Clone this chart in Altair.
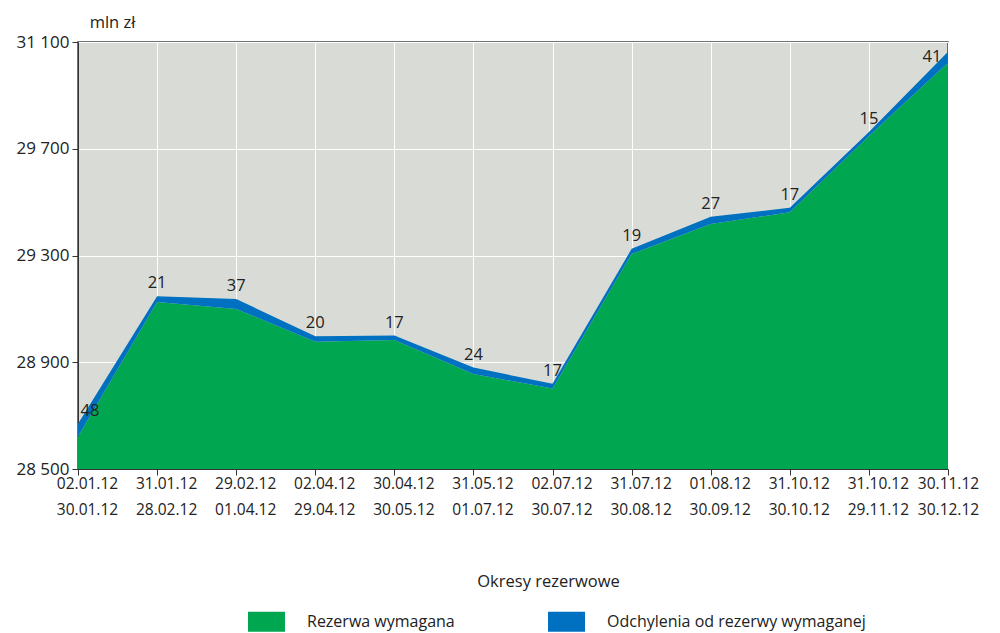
import altair as alt
import pandas as pd

start_dates = ["02.01.12", "31.01.12", "29.02.12", "02.04.12", "30.04.12", "31.05.12",
               "02.07.12", "31.07.12", "01.08.12", "31.10.12", "31.10.12", "30.11.12"]
end_dates = ["30.01.12", "28.02.12", "01.04.12", "29.04.12", "30.05.12", "01.07.12",
             "30.07.12", "30.08.12", "30.09.12", "30.10.12", "29.11.12", "30.12.12"]
required = [28622, 29126, 29100, 28977, 28983, 28856, 28802, 29306, 29418, 29462, 29748, 30022]
deviation = [48, 21, 37, 20, 17, 24, 17, 19, 27, 17, 15, 41]
series_names = ["Rezerwa wymagana", "Odchylenia od rezerwy wymaganej"]
series_colors = ["#00A650", "#0070C0"]
y_ticks = [28500, 28900, 29300, 29700, 30100]

periods = [f"{s}|{e}" for s, e in zip(start_dates, end_dates)]

rows = []
for i, p in enumerate(periods):
    rows.append({"period": p, "series": series_names[0], "value": required[i], "ord": 0})
    rows.append({"period": p, "series": series_names[1], "value": deviation[i], "ord": 1})
long_df = pd.DataFrame(rows)

lab_df = pd.DataFrame({
    "period": periods,
    "total": [r + d for r, d in zip(required, deviation)],
    "dev": deviation,
    "idx": list(range(len(periods))),
})

FONT = "Open Sans"
TXT = "#222222"

x_enc = alt.X(
    "period:N", sort=periods,
    scale=alt.Scale(type="point", padding=0),
    axis=alt.Axis(
        title="Okresy rezerwowe", titleFont=FONT, titleFontSize=16.5, titleFontWeight="normal",
        titleColor=TXT, titleX=470, titleY=112, titleBaseline="middle", titleAlign="center",
        labelExpr="split(datum.label, '|')", labelAngle=0, labelFont=FONT, labelFontSize=15.5,
        labelColor=TXT, labelLineHeight=26, labelPadding=1, labelBaseline="top",
        labelOffset=alt.condition(f"datum.value == '{periods[-1]}'", alt.value(0), alt.value(9)),
        tickSize=6, tickColor="#333", domainColor="#333",
        grid=True, gridColor="#ffffff", gridWidth=1,
    ),
)

y_scale = alt.Scale(domain=[28500, 30100], nice=False, zero=False)

area = alt.Chart(long_df).mark_area(clip=True, opacity=1).encode(
    x=x_enc,
    y=alt.Y(
        "value:Q", stack="zero", scale=y_scale,
        axis=alt.Axis(
            values=y_ticks, title="mln zł", titleAngle=0, titleX=34, titleY=-20,
            titleAlign="center", titleBaseline="middle", titleFont=FONT, titleFontSize=16.5,
            titleFontWeight="normal", titleColor=TXT,
            labelExpr="datum.value == 30100 ? '31 100' : replace(format(datum.value, ','), ',', ' ')",
            labelFont=FONT, labelFontSize=17, labelColor=TXT, labelPadding=3,
            tickSize=6, tickColor="#333", domainColor="#333",
            grid=True, gridColor="#ffffff", gridWidth=1,
        ),
    ),
    color=alt.Color(
        "series:N", sort=series_names,
        scale=alt.Scale(domain=series_names, range=series_colors),
        legend=alt.Legend(
            title=None, orient="none", legendX=170, legendY=561, direction="horizontal",
            symbolType="M-1,-0.54H1V0.54H-1Z", symbolSize=1369, symbolStrokeWidth=0,
            symbolOpacity=1, labelFont=FONT, labelFontSize=16, labelColor=TXT,
            labelOffset=22, columnPadding=93, labelLimit=500, padding=0,
        ),
    ),
    order=alt.Order("ord:Q", sort="ascending"),
)

enc = dict(
    x=alt.X("period:N", sort=periods),
    y=alt.Y("total:Q"),
    text=alt.Text("dev:Q"),
)
labels_mid = alt.Chart(lab_df).mark_text(font=FONT, fontSize=16.5, color=TXT, dy=-13).transform_filter(
    "datum.idx > 0 && datum.idx < 11").encode(**enc)
labels_first = alt.Chart(lab_df).mark_text(font=FONT, fontSize=16.5, color=TXT, dy=-13, dx=12).transform_filter(
    "datum.idx == 0").encode(**enc)
labels_last = alt.Chart(lab_df).mark_text(font=FONT, fontSize=16.5, color=TXT, dy=5, dx=-16).transform_filter(
    "datum.idx == 11").encode(**enc)

chart = alt.layer(area, labels_mid, labels_first, labels_last).properties(
    width=870, height=427,
    autosize=alt.AutoSizeParams(type="none"),
    padding={"left": 70, "top": 34, "right": 44, "bottom": 176},
).configure_view(
    fill="#D9DCD6", stroke="#444", strokeWidth=1.5,
).configure_axis(
    gridOpacity=1,
)

chart.save("out.html", embed_options={"renderer": "svg", "actions": False})
